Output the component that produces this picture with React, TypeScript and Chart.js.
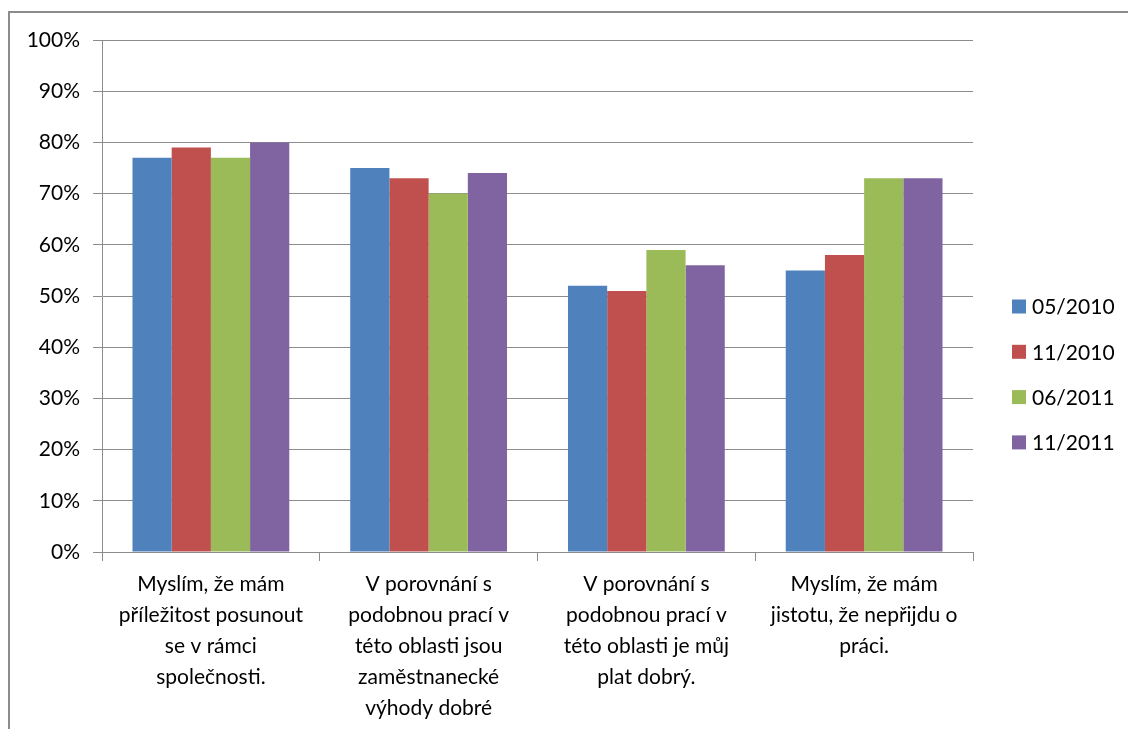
import React, { useEffect, useRef } from "react";
import { Chart, registerables } from "chart.js";

Chart.register(...registerables);

const categories: string[][] = [
  ["Myslím, že mám", "příležitost posunout", "se v rámci", "společnosti."],
  ["V porovnání s", "podobnou prací v", "této oblasti jsou", "zaměstnanecké", "výhody dobré"],
  ["V porovnání s", "podobnou prací v", "této oblasti je můj", "plat dobrý."],
  ["Myslím, že mám", "jistotu, že nepřijdu o", "práci."],
];

const seriesLabels = ["05/2010", "11/2010", "06/2011", "11/2011"];
const seriesColors = ["#4F81BD", "#C0504D", "#9BBB59", "#8064A2"];

const values0510 = [77, 75, 52, 55];
const values1110 = [79, 73, 51, 58];
const values0611 = [77, 70, 59, 73];
const values1111 = [80, 74, 56, 73];

const yTicks = [0, 10, 20, 30, 40, 50, 60, 70, 80, 90, 100];

const FONT = "Lato, 'Open Sans', sans-serif";
const GRID = "#8c8c8c";

// Legend drawn at the right side of the chart, one row per dataset
const sideLegend = {
  id: "sideLegend",
  afterDraw(chart: Chart) {
    const ctx = chart.ctx;
    ctx.save();
    ctx.font = `21px ${FONT}`;
    ctx.textBaseline = "middle";
    ctx.textAlign = "left";
    chart.data.datasets.forEach((ds, i) => {
      const y = 306.5 + i * 45.3;
      ctx.fillStyle = ds.backgroundColor as string;
      ctx.fillRect(1012, y - 7, 14, 14);
      ctx.fillStyle = "#000";
      ctx.fillText(String(ds.label), 1032, y + 1);
    });
    ctx.restore();
  },
};

export default function App() {
  const canvasRef = useRef<HTMLCanvasElement | null>(null);

  useEffect(() => {
    if (!canvasRef.current) return;
    const seriesValues = [values0510, values1110, values0611, values1111];
    const chart = new Chart(canvasRef.current, {
      type: "bar",
      data: {
        labels: categories,
        datasets: seriesLabels.map((label, i) => ({
          label,
          data: seriesValues[i],
          backgroundColor: seriesColors[i],
          borderWidth: 0,
          categoryPercentage: 0.72,
          barPercentage: 1,
        })),
      },
      options: {
        animation: false,
        responsive: false,
        devicePixelRatio: 1,
        layout: { padding: { left: 0, top: 40, right: 155, bottom: 0 } },
        plugins: {
          legend: { display: false },
          tooltip: { enabled: false },
        },
        scales: {
          x: {
            offset: true,
            grid: {
              display: true,
              drawOnChartArea: false,
              drawTicks: true,
              tickLength: 9,
              color: GRID,
              offset: true,
            },
            border: { display: true, color: GRID },
            ticks: {
              font: { family: FONT, size: 21, lineHeight: 1.47 },
              color: "#000",
              maxRotation: 0,
              autoSkip: false,
              padding: 8,
            },
            afterFit: (s: any) => {
              s.height = 177;
            },
          },
          y: {
            min: 0,
            max: 100,
            afterBuildTicks: (s: any) => {
              s.ticks = yTicks.map((v) => ({ value: v }));
            },
            grid: { color: GRID, tickLength: 9, lineWidth: 1 },
            border: { display: true, color: GRID },
            ticks: {
              font: { family: FONT, size: 21 },
              color: "#000",
              padding: 13,
              callback: (v: any) => `${v}%`,
            },
            afterFit: (s: any) => {
              s.width = 102;
            },
          },
        },
      },
      plugins: [sideLegend],
    });
    return () => chart.destroy();
  }, []);

  return (
    <div
      style={{
        position: "fixed",
        left: 0,
        top: 0,
        width: 1128,
        height: 729,
        background: "#fff",
        overflow: "hidden",
      }}
    >
      <div
        style={{
          position: "absolute",
          left: 8,
          top: 11,
          width: 1200,
          height: 800,
          border: "2px solid #8c8c8c",
        }}
      />
      <canvas
        ref={canvasRef}
        width={1128}
        height={729}
        style={{ position: "absolute", left: 0, top: 0 }}
      />
    </div>
  );
}
